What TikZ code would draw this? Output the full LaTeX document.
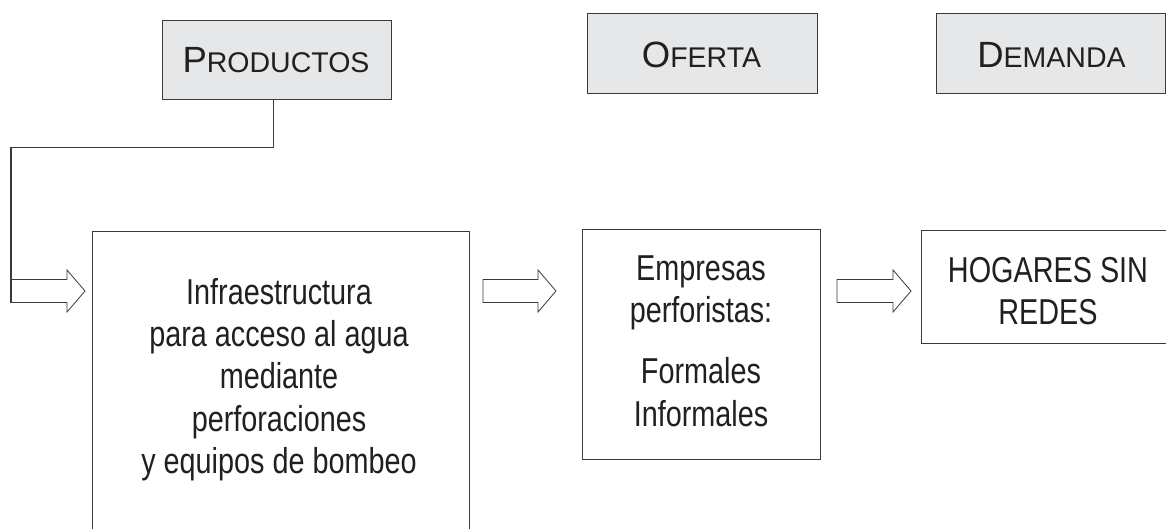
\documentclass[tikz,border=0pt]{standalone}
\usepackage{fontspec}
\setmainfont{Liberation Sans}
\newfontfamily\narrowfont{Liberation Sans}[FakeStretch=0.80]
\usetikzlibrary{calc}
\definecolor{boxgray}{HTML}{E6E7E8}
\definecolor{ink}{HTML}{231F20}
\definecolor{edge}{HTML}{3A3A3A}
\tikzset{
  hdr/.style={draw=edge, fill=boxgray, line width=1.3pt, inner sep=0pt, anchor=north west},
  bodybox/.style={draw=edge, fill=white, line width=1.2pt, inner sep=0pt, anchor=north west},
  hdrtxt/.style={text=ink, inner sep=0pt, anchor=base},
  bodytxt/.style={font=\narrowfont\fontsize{36}{42.3}\selectfont, align=center, text=ink, inner sep=0pt},
  arr/.style={draw=edge, line width=0.8pt, fill=white},
  conn/.style={draw=edge, line width=1.1pt},
}
\newcommand{\bigsc}[2]{{\fontsize{36.5}{40}\selectfont #1}{\fontsize{28.5}{30}\selectfont #2}}
\newcommand{\blockarr}[4]{%
  \draw[arr] (#1,#4-11.5) -- (#2,#4-11.5) -- (#2,#4-21) -- (#3,#4) -- (#2,#4+21) -- (#2,#4+11.5) -- (#1,#4+11.5) -- cycle;}
\begin{document}
\begin{tikzpicture}[x=1pt,y=-1pt]
\clip (0,0) rectangle (1166,529);
\fill[white] (0,0) rectangle (1166,529);
% header boxes
\node[hdr, minimum width=229pt, minimum height=79pt] (prod) at (162,20) {};
\node[hdr, minimum width=230pt, minimum height=80pt] (ofe) at (587,13) {};
\node[hdr, minimum width=229pt, minimum height=80pt] (dem) at (936,13) {};
\node[hdrtxt] (prodt) at (276,73) {\bigsc{P}{RODUCTOS}};
\node[hdrtxt] (ofet) at (701.5,68) {\bigsc{O}{FERTA}};
\node[hdrtxt] (demt) at (1051.5,68) {\bigsc{D}{EMANDA}};
% body boxes
\node[bodybox, minimum width=377pt, minimum height=320pt] (infra) at (92,231) {};
\node[bodybox, minimum width=238pt, minimum height=230pt] (emp) at (582,229) {};
\node[bodybox, minimum width=260pt, minimum height=113pt] (hog) at (921,230) {};
\node[bodytxt] (infrat) at (279,379.5) {Infraestructura\\para acceso al agua\\mediante\\perforaciones\\y equipos de bombeo};
\node[bodytxt] (empt) at (701,341) {Empresas\\perforistas:\\[19pt]Formales\\Informales};
\node[bodytxt] (hogt) at (1048,291) {HOGARES SIN\\REDES};
% block arrows
\blockarr{11}{67}{85}{291}
\blockarr{483}{538}{556}{291}
\blockarr{837}{893}{911}{291}
% connector from Productos
\coordinate (a1) at (11,302.5);
\draw[conn] ($(prod.south)+(-3.4,0)$) -- ++(0,47) -| (a1);
\end{tikzpicture}
\end{document}
